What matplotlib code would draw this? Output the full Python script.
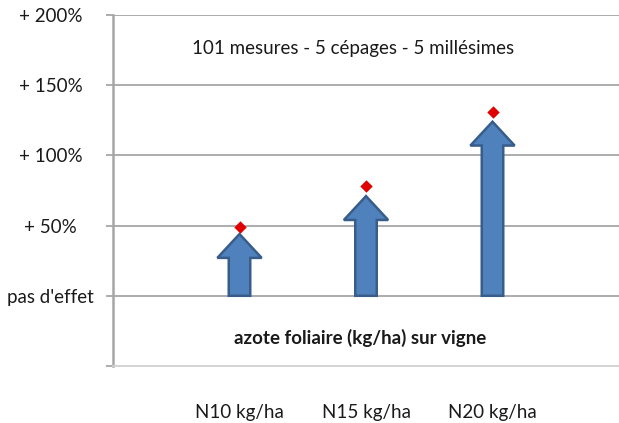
import matplotlib.pyplot as plt
from matplotlib.patches import FancyArrow

plt.rcParams['font.family'] = ['Lato', 'DejaVu Sans']

# data
doses = ['N10 kg/ha', 'N15 kg/ha', 'N20 kg/ha']
effet_moyen = [49, 78, 131]      # red diamonds (% gain)
fleche = [44, 71, 124]           # arrow tips (% gain)
yticks = [-50, 0, 50, 100, 150, 200]
ytick_labels = ['', "pas d'effet", '+ 50%', '+ 100%', '+ 150%', '+ 200%']

fig = plt.figure(figsize=(6.19, 4.23), dpi=100)
ax = fig.add_axes([113/619, 1-366/423, 1-113/619, (366-15)/423])

xs = [1, 2, 3]
ax.set_xlim(0, 4)
ax.set_ylim(-50, 200)

for y in yticks[1:]:
    ax.axhline(y, color='#a6a6a6', lw=1.3, zorder=1)

for x, h in zip(xs, fleche):
    arr = FancyArrow(x, 0, 0, h, width=0.17, head_width=0.35, head_length=17,
                     length_includes_head=True, facecolor='#4f81bd',
                     edgecolor='#385d8a', lw=1.8, zorder=3)
    ax.add_patch(arr)

ax.scatter(xs, effet_moyen, marker='D', s=40, color='#e00000', zorder=4, lw=0)

fs = 13.5
ax.text(1.9, 176, '101 mesures - 5 cépages - 5 millésimes', ha='center', va='center',
        fontsize=fs, color='#1a1a1a')
ax.text(1.95, -30, 'azote foliaire (kg/ha) sur vigne', ha='center', va='center',
        fontsize=fs, fontweight='bold', color='#1a1a1a')

ax.set_yticks(yticks)
ax.set_yticklabels(ytick_labels)
for lab in ax.get_yticklabels():
    lab.set_horizontalalignment('center')
ax.tick_params(axis='y', length=5, width=1.3, color='#a6a6a6', pad=40,
               labelsize=fs, labelcolor='#1a1a1a')

ax.set_xticks(xs)
ax.set_xticklabels(doses)
ax.tick_params(axis='x', length=0, pad=27, labelsize=fs, labelcolor='#1a1a1a')

for s in ['top', 'right']:
    ax.spines[s].set_visible(False)
ax.spines['left'].set_color('#a6a6a6')
ax.spines['left'].set_linewidth(1.8)
ax.spines['bottom'].set_color('#d0d0d0')
ax.spines['bottom'].set_linewidth(1.3)

fig.savefig('out.png', dpi=100)
